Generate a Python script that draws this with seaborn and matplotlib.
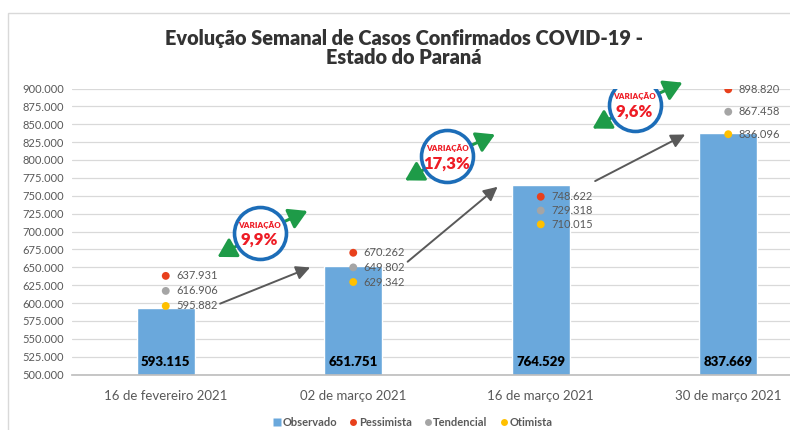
import matplotlib
matplotlib.use("Agg")
import matplotlib.pyplot as plt
import matplotlib.transforms as mtransforms
from matplotlib.lines import Line2D
from matplotlib.patches import Rectangle
import seaborn as sns
import pandas as pd
import numpy as np

# ---- data ----
categorias = ["16 de fevereiro 2021", "02 de março 2021", "16 de março 2021", "30 de março 2021"]
observado = [593115, 651751, 764529, 837669]
pessimista = [637931, 670262, 748622, 898820]
tendencial = [616906, 649802, 729318, 867458]
otimista = [595882, 629342, 710015, 836096]
variacao = ["9,9%", "17,3%", "9,6%"]

# ---- layout (annotation positions) ----
circulo_y = [698000, 805000, 877500]

C_BAR = "#6AA8DC"
C_PES = "#E8401C"
C_TEN = "#A5A5A5"
C_OTI = "#FFC000"
C_TXT = "#595959"
C_BLUE = "#1C6DB8"
C_GREEN = "#1E9B48"
C_RED = "#EE1C25"


def fmt(v):
    return f"{v:,}".replace(",", ".")


sns.set_theme(style="white")
plt.rcParams["font.family"] = ["Lato", "DejaVu Sans"]

fig = plt.figure(figsize=(7.9, 4.3), dpi=100)
ax = fig.add_axes([72 / 790, 1 - 374.5 / 430, 750 / 790, (374.5 - 88.5) / 430])

pos = list(range(len(categorias)))
df = pd.DataFrame({"pos": pos, "obs": observado})
sns.barplot(data=df, x="pos", y="obs", color=C_BAR, saturation=1, width=0.31, ax=ax, zorder=2)

long = pd.DataFrame({
    "pos": pos * 3,
    "valor": pessimista + tendencial + otimista,
    "serie": ["Pessimista"] * 4 + ["Tendencial"] * 4 + ["Otimista"] * 4,
})
sns.scatterplot(data=long, x="pos", y="valor", hue="serie",
                palette={"Pessimista": C_PES, "Tendencial": C_TEN, "Otimista": C_OTI},
                s=32, edgecolor="none", legend=False, ax=ax, zorder=4)

for serie in (pessimista, tendencial, otimista):
    for i, v in enumerate(serie):
        ax.annotate(fmt(v), (i, v), xytext=(7.5, 0), textcoords="offset points",
                    ha="left", va="center", fontsize=8, color=C_TXT, zorder=5)

for i, v in enumerate(observado):
    ax.annotate(fmt(v), (i, 500000), xytext=(0, 9), textcoords="offset points",
                ha="center", va="center", fontsize=9.5, fontweight="heavy",
                color="black", zorder=5)

# growth arrows
for i in range(len(observado) - 1):
    ax.annotate("", xy=(i + 0.77, observado[i + 1] - 2000),
                xytext=(i + 0.29, observado[i] + 6000),
                arrowprops=dict(arrowstyle="-|>,head_length=0.6,head_width=0.3",
                                color=C_TXT, lw=1.4, mutation_scale=14,
                                shrinkA=0, shrinkB=0), zorder=3)

# variation circles
for i, lab in enumerate(variacao):
    cx, cy = i + 0.5, circulo_y[i]
    for dx, dy in ((-42, -24), (48, 22)):
        tr = mtransforms.offset_copy(ax.transData, fig=fig, x=dx, y=dy, units="dots")
        ax.annotate("", xy=(cx, cy), xycoords=tr, xytext=(cx, cy), textcoords="data",
                    arrowprops=dict(arrowstyle="-|>,head_length=0.65,head_width=0.38",
                                    color=C_GREEN, lw=2.2, mutation_scale=17,
                                    shrinkA=0, shrinkB=0), zorder=6)
    ax.scatter([cx], [cy], s=1400, facecolor="white", edgecolor=C_BLUE,
               linewidth=2.6, zorder=7)
    ax.annotate("VARIAÇÃO", (cx, cy), xytext=(0, 6), textcoords="offset points",
                ha="center", va="center", fontsize=5.8, fontweight="heavy",
                color=C_RED, zorder=8)
    ax.annotate(lab, (cx, cy), xytext=(0, -5), textcoords="offset points",
                ha="center", va="center", fontsize=12, fontweight="heavy",
                color=C_RED, zorder=8)

# axes styling
ax.set_xlim(-0.5, 3.5)
ax.set_ylim(500000, 900000)
yt = list(range(500000, 900001, 25000))
ax.set_yticks(yt)
ax.set_yticklabels([fmt(v) for v in yt])
ax.set_xticks(pos)
ax.set_xticklabels(categorias)
ax.set_xticks([-0.5, 0.5, 1.5, 2.5, 3.5], minor=True)
ax.set_xlabel("")
ax.set_ylabel("")
ax.yaxis.grid(True, color="#D9D9D9", lw=0.9)
ax.set_axisbelow(True)
for s in ("top", "right", "left"):
    ax.spines[s].set_visible(False)
ax.spines["bottom"].set_color("#BFBFBF")
ax.spines["bottom"].set_zorder(3)
ax.tick_params(axis="y", length=0, pad=6, labelsize=8, labelcolor=C_TXT)
ax.tick_params(axis="x", which="major", length=0, pad=11, labelsize=9.5, labelcolor=C_TXT)
ax.tick_params(axis="x", which="minor", length=5, width=0.9, color="#BFBFBF")

# title
fig.text(404 / 790, 1 - 47.5 / 430,
         "Evolução Semanal de Casos Confirmados COVID-19 -\nEstado do Paraná",
         ha="center", va="center", fontsize=14.3, fontweight="heavy",
         color="#333333", linespacing=1.0)

# legend
handles = [
    Line2D([], [], marker="s", linestyle="", markerfacecolor=C_BAR, markeredgecolor="none", markersize=6),
    Line2D([], [], marker="o", linestyle="", markerfacecolor=C_PES, markeredgecolor="none", markersize=5),
    Line2D([], [], marker="o", linestyle="", markerfacecolor=C_TEN, markeredgecolor="none", markersize=5),
    Line2D([], [], marker="o", linestyle="", markerfacecolor=C_OTI, markeredgecolor="none", markersize=5),
]
leg = fig.legend(handles, ["Observado", "Pessimista", "Tendencial", "Otimista"],
                 loc="center", bbox_to_anchor=(412 / 790, 1 - 422 / 430), ncol=4,
                 frameon=False, fontsize=8, handletextpad=0.05, columnspacing=1.0,
                 handlelength=0.9, borderaxespad=0, borderpad=0)
for t in leg.get_texts():
    t.set_color(C_TXT)
    t.set_fontweight("bold")

# outer frame
fig.add_artist(Rectangle((8 / 790, -0.1), 1.0, 1 - 13 / 430 + 0.1,
                         transform=fig.transFigure, fill=False,
                         edgecolor="#D9D9D9", lw=1))

fig.savefig("out.png", dpi=100)
